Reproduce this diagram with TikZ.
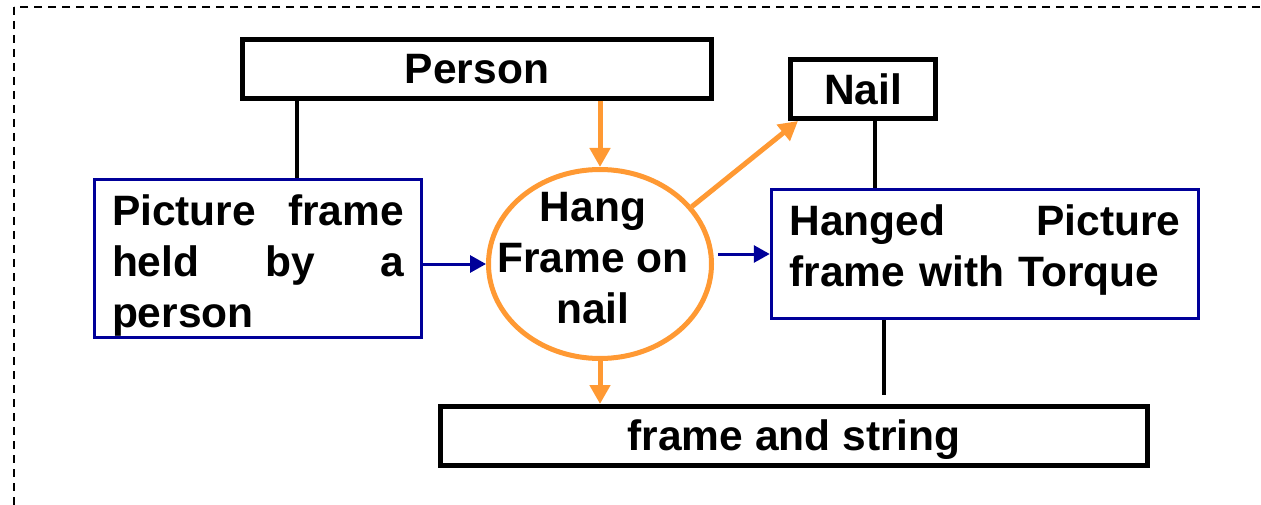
\documentclass[tikz,border=0pt]{standalone}
\usepackage{fontspec}
\setmainfont{Liberation Sans}
\usetikzlibrary{arrows.meta,shapes.geometric}
\definecolor{oran}{RGB}{255,153,51}
\definecolor{dblue}{RGB}{0,0,153}
\begin{document}
\begin{tikzpicture}[x=1pt,y=-1pt,
  txt/.style={font=\fontsize{42.5}{51}\selectfont\bfseries},
  blackbox/.style={draw=black, line width=5pt, rectangle, inner sep=0pt, txt},
  bluebox/.style={draw=dblue, line width=3.5pt, rectangle, inner sep=0pt},
  oval/.style={draw=oran, line width=5pt, ellipse, inner sep=0pt},
  oarrow/.style={draw=oran, line width=5pt, -{Triangle[length=19pt,width=20pt]}},
  barrow/.style={draw=dblue, line width=3pt, -{Triangle[length=16pt,width=17pt]}},
  link/.style={draw=black, line width=3.5pt},
  border/.style={draw=black, line width=1.5pt, dash pattern=on 8pt off 6pt}]

\useasboundingbox (0,0) rectangle (1261,505);
\begin{scope}
  \clip (0,0) rectangle (1261,505);
  \path[border] (14,7) rectangle (1290,530);
\end{scope}

\node[blackbox, minimum width=469pt, minimum height=59pt] (person) at (477,69) {Person};
\node[blackbox, minimum width=145pt, minimum height=59pt] (nail) at (863,89) {Nail};
\node[blackbox, minimum width=707pt, minimum height=59pt,
  label={[txt, yshift=-4pt]center:frame and string}] (frame) at (794,436) {};
\node[bluebox, minimum width=327pt, minimum height=158pt,
  label={[txt, text width=292pt, align=left, yshift=-7pt]center:Picture\hfill frame\\held\hfill by\hfill a\\person}] (pic) at (258,258.5) {};
\node[bluebox, minimum width=427pt, minimum height=129pt,
  label={[txt, text width=391pt, align=left, yshift=4pt]center:Hanged\hfill Picture\\frame with Torque}] (hanged) at (985,254) {};
\node[oval, minimum width=223pt, minimum height=189pt,
  label={[txt, align=center, xshift=-7pt, yshift=6pt]center:Hang\\Frame on\\nail}] (hang) at (600,264) {};

\draw[oarrow] (person.south -| hang.north) -- (hang.north);
\draw[oarrow] (hang.south) -- (hang.south |- frame.north);
\draw[oarrow] (hang.32) -- ([xshift=10pt]nail.south west);
\draw[barrow] (pic.east |- hang.west) -- (hang.west);
\draw[barrow] ([xshift=4pt]hang.east |- hanged.west) -- (hanged.west);

\draw[link] ([xshift=39pt]pic.north) -- ([xshift=39pt]pic.north |- person.south);
\draw[link] ([xshift=12pt]nail.south) -- ([xshift=12pt]nail.south |- hanged.north);
\coordinate (stub) at (884,395);
\draw[link] (hanged.south -| stub) -- (stub);
\end{tikzpicture}
\end{document}
